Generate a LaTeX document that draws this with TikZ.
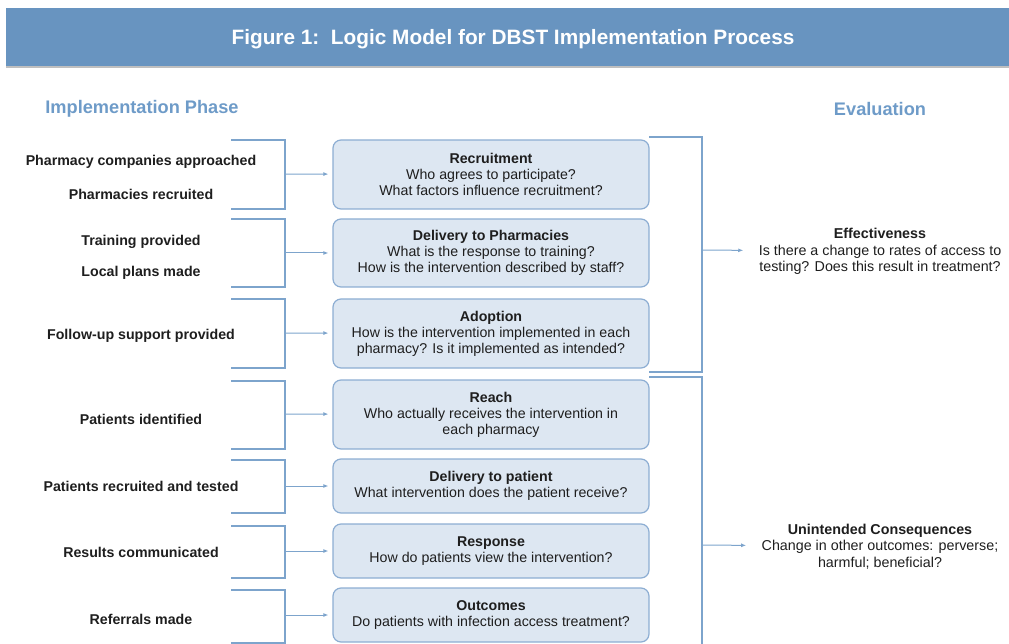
\documentclass[tikz,border=0pt]{standalone}
\usepackage{fontspec}
\setmainfont{Liberation Sans}
\usetikzlibrary{arrows.meta}

\definecolor{barblue}{HTML}{6894C0}
\definecolor{headblue}{HTML}{6E9BC8}
\definecolor{linecol}{HTML}{7DA4CC}
\definecolor{boxfill}{HTML}{DDE7F2}
\definecolor{boxdraw}{HTML}{8DAED3}
\definecolor{txt}{HTML}{1E1E1E}

\tikzset{
  stage/.style={draw=boxdraw, fill=boxfill, rounded corners=8pt, line width=1.2pt,
    minimum width=316pt, inner sep=0pt, align=center, text=txt,
    font=\fontsize{14.2}{16}\selectfont},
  activity/.style={align=center, text=txt, yshift=-2pt, font=\bfseries\fontsize{14.2}{16}\selectfont},
  outcome/.style={align=center, text=txt, yshift=-1.5pt, font=\fontsize{14.3}{16.5}\selectfont},
  heading/.style={text=headblue, yshift=-2pt, font=\bfseries\fontsize{18.2}{20}\selectfont},
  bracket/.style={draw=linecol, line width=1.3pt},
  feed/.style={draw=linecol, line width=1pt, shorten >=4pt, -{Latex[length=5pt,width=4pt]}},
}

\begin{document}
\begin{tikzpicture}[x=1pt, y=-1pt]
  \useasboundingbox (0,0) rectangle (1009,644);

  % Title bar
  \fill[black!25] (6,66) rectangle (1009,68);
  \fill[barblue] (6,8) rectangle (1009,66);
  \node[text=white, yshift=-2pt, font=\bfseries\fontsize{20.8}{22}\selectfont] (title) at (513,37)
    {Figure 1:\ \ Logic Model for DBST Implementation Process};

  \node[heading] (impl) at (142,107) {Implementation Phase};
  \node[heading] (eval) at (880,107) {Evaluation};

  % Activities
  \node[activity] (a1) at (141,160) {Pharmacy companies approached};
  \node[activity] (a2) at (141,192) {Pharmacies recruited};
  \node[activity] (a3) at (141,240) {Training provided};
  \node[activity] (a4) at (141,271) {Local plans made};
  \node[activity] (a5) at (141,334) {Follow-up support provided};
  \node[activity] (a6) at (141,417) {Patients identified};
  \node[activity] (a7) at (141,484) {Patients recruited and tested};
  \node[activity] (a8) at (141,550) {Results communicated};
  \node[activity] (a9) at (141,617) {Referrals made};

  % Process stages
  \node[stage, minimum height=69pt] (recruit) at (491,174.5)
    {\textbf{Recruitment}\\Who agrees to participate?\\What factors influence recruitment?};
  \node[stage, minimum height=68pt] (delpharm) at (491,253)
    {\textbf{Delivery to Pharmacies}\\What is the response to training?\\How is the intervention described by staff?};
  \node[stage, minimum height=69pt] (adopt) at (491,333.5)
    {\textbf{Adoption}\\How is the intervention implemented in each\\pharmacy? Is it implemented as intended?};
  \node[stage, minimum height=69pt] (reach) at (491,414.5)
    {\textbf{Reach}\\Who actually receives the intervention in\\each pharmacy};
  \node[stage, minimum height=54pt] (delpat) at (491,486)
    {\textbf{Delivery to patient}\\What intervention does the patient receive?};
  \node[stage, minimum height=54pt] (resp) at (491,551)
    {\textbf{Response}\\How do patients view the intervention?};
  \node[stage, minimum height=54pt] (outc) at (491,615)
    {\textbf{Outcomes}\\Do patients with infection access treatment?};

  % Evaluation
  \node[outcome] (effect) at (880,250)
    {\textbf{Effectiveness}\\Is there a change to rates of access to\\testing? Does this result in treatment?};
  \node[outcome] (unint) at (880,545)
    {\textbf{Unintended Consequences}\\Change in other outcomes: perverse;\\harmful; beneficial?};

  % Left brackets
  \coordinate (l1t) at (231,140); \coordinate (l1m) at (285,174); \coordinate (l1b) at (231,209);
  \coordinate (l2t) at (231,219); \coordinate (l2m) at (285,253); \coordinate (l2b) at (231,287);
  \coordinate (l3t) at (231,299); \coordinate (l3m) at (285,333); \coordinate (l3b) at (231,368);
  \coordinate (l4t) at (231,381); \coordinate (l4m) at (285,414); \coordinate (l4b) at (231,449);
  \coordinate (l5t) at (231,460); \coordinate (l5m) at (285,486); \coordinate (l5b) at (231,513);
  \coordinate (l6t) at (231,526); \coordinate (l6m) at (285,551); \coordinate (l6b) at (231,578);
  \coordinate (l7t) at (231,590); \coordinate (l7m) at (285,615); \coordinate (l7b) at (231,643);

  \draw[bracket] (l1t) -| (l1m) |- (l1b);
  \draw[bracket] (l2t) -| (l2m) |- (l2b);
  \draw[bracket] (l3t) -| (l3m) |- (l3b);
  \draw[bracket] (l4t) -| (l4m) |- (l4b);
  \draw[bracket] (l5t) -| (l5m) |- (l5b);
  \draw[bracket] (l6t) -| (l6m) |- (l6b);
  \draw[bracket] (l7t) -| (l7m) |- (l7b);

  \draw[feed] (l1m) -- (recruit);
  \draw[feed] (l2m) -- (delpharm);
  \draw[feed] (l3m) -- (adopt);
  \draw[feed] (l4m) -- (reach);
  \draw[feed] (l5m) -- (delpat);
  \draw[feed] (l6m) -- (resp);
  \draw[feed] (l7m) -- (outc);

  % Right brackets
  \coordinate (r1t) at (649,137); \coordinate (r1m) at (702,250); \coordinate (r1b) at (649,372);
  \coordinate (r2t) at (649,377); \coordinate (r2m) at (702,545); \coordinate (r2b) at (702,650);

  \draw[bracket] (r1t) -| (r1m) |- (r1b);
  \draw[bracket] (r2t) -| (r2m) -- (r2b);

  \draw[feed, shorten >=12pt] (r1m) -- (effect);
  \draw[feed, shorten >=12pt] (r2m) -- (unint);
\end{tikzpicture}
\end{document}
